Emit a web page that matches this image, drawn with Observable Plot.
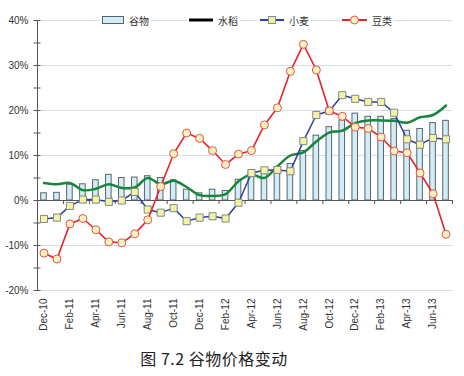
<!DOCTYPE html>
<html>
<head>
<meta charset="utf-8">
<script src="https://cdn.jsdelivr.net/npm/d3@7"></script>
<script src="https://cdn.jsdelivr.net/npm/@observablehq/plot@0.6"></script>
<style>
  html, body { margin: 0; padding: 0; background: #fff; }
  #wrap { position: relative; width: 464px; height: 376px; background: #fff; }
  .leg { position: absolute; top: 12px; height: 16px; background: #fff; display: flex; align-items: center;
         font-family: "Noto Sans CJK SC", sans-serif; font-size: 10px; color: #333; padding: 0 2px; }
  .leg svg { margin-right: 5px; }
  #title { position: absolute; left: 0; top: 340px; width: 428px; height: 36px; line-height: 36px; text-align: center;
           font-family: "Noto Sans CJK SC", sans-serif; font-size: 16px; color: #222; letter-spacing: 0.5px; }
</style>
</head>
<body>
<div id="wrap">
  <div id="chart"></div>
  <div class="leg" style="left:100px"><svg width="22" height="8"><rect x="0.5" y="0.5" width="21" height="7" fill="#d3edf6" stroke="#59646b"/></svg>谷物</div>
  <div class="leg" style="left:187px"><svg width="24" height="8"><line x1="0" x2="24" y1="4" y2="4" stroke="#000" stroke-width="3"/></svg>水稻</div>
  <div class="leg" style="left:258px"><svg width="24" height="10"><line x1="0" x2="24" y1="5" y2="5" stroke="#2e3f9e" stroke-width="2"/><rect x="8.5" y="1.5" width="7" height="7" fill="#f5f2a0" stroke="#7d8890"/></svg>小麦</div>
  <div class="leg" style="left:340px"><svg width="25" height="10"><line x1="0" x2="25" y1="5" y2="5" stroke="#e3262d" stroke-width="2"/><circle cx="12.5" cy="5" r="4" fill="#fbf1bd" stroke="#e0554f"/></svg>豆类</div>
  <div id="title">图 7.2 谷物价格变动</div>
</div>
<script>
const months = ["Dec-10","Jan-11","Feb-11","Mar-11","Apr-11","May-11","Jun-11","Jul-11","Aug-11","Sep-11","Oct-11","Nov-11",
  "Dec-11","Jan-12","Feb-12","Mar-12","Apr-12","May-12","Jun-12","Jul-12","Aug-12","Sep-12","Oct-12","Nov-12",
  "Dec-12","Jan-13","Feb-13","Mar-13","Apr-13","May-13","Jun-13","Jul-13"];
// 谷物 (bars)
const grain = [1.6,1.7,3.5,3.6,4.5,5.7,5.0,5.1,5.4,5.0,4.5,2.4,1.6,2.4,2.1,4.6,6.5,6.8,7.4,8.1,11.0,14.4,16.3,17.8,19.3,18.6,18.6,18.1,15.5,15.9,17.2,17.7];
// 水稻 (green line)
const rice = [3.9,3.6,3.9,2.3,2.6,3.6,2.8,2.9,5.0,3.6,4.4,3.0,1.2,1.0,1.4,4.3,5.8,5.0,7.6,10.0,10.7,13.1,15.1,15.5,17.2,17.8,17.8,17.7,17.3,18.5,19.0,21.1];
// 小麦 (blue line, squares)
const wheat = [-4.1,-3.8,-1.2,0.2,0.2,-0.3,0.0,1.9,-2.0,-2.7,-1.7,-4.6,-3.8,-3.5,-4.0,-0.5,6.1,6.7,6.8,6.5,13.2,19.0,19.9,23.4,22.6,21.9,21.9,19.5,13.6,12.4,13.9,13.6];
// 豆类 (red line, circles)
const beans = [-11.7,-13.0,-5.2,-4.0,-6.5,-9.2,-9.4,-7.4,-4.3,3.1,10.4,15.0,13.8,11.1,8.0,10.3,11.1,16.8,20.6,28.7,34.7,29.0,19.9,18.7,16.3,16.0,14.1,11.0,10.6,6.1,1.5,-7.5];
const yTicks = [-20,-10,0,10,20,30,40];
const yMinor = [-20,-15,-10,-5,0,5,10,15,20,25,30,35,40];
const xLabels = months.filter((d, i) => i % 2 === 0);

const data = months.map((m, i) => ({month: m, grain: grain[i], rice: rice[i], wheat: wheat[i], beans: beans[i]}));

const W = 464, H = 340, ML = 37, MR = 12;
const step = (W - ML - MR) / months.length;
const axisColor = "#555";

const chart = Plot.plot({
  width: W, height: H,
  marginLeft: ML, marginRight: MR, marginTop: 20, marginBottom: 50,
  style: {fontFamily: "Liberation Sans, Arial, sans-serif", fontSize: "10px", color: "#333", background: "white", overflow: "visible"},
  x: {type: "band", domain: months, paddingInner: 0.57, paddingOuter: 0.285, label: null},
  y: {domain: [-20, 40], label: null},
  marks: [
    Plot.gridY({ticks: yTicks, stroke: "#d9dbe6", strokeOpacity: 1}),
    Plot.axisY({ticks: yTicks, tickFormat: d => d + "%", tickSize: 0, tickPadding: 9, fill: "#333", label: null}),
    Plot.axisY({ticks: yMinor, tickFormat: () => "", tickSize: 7, dx: 3.5, stroke: axisColor, label: null}),
    Plot.ruleX([months[0]], {dx: -step / 2, stroke: axisColor}),
    Plot.axisX({ticks: xLabels, tickSize: 0, tickRotate: -90, tickPadding: 8, anchor: "bottom", fill: "#333", label: null}),
    Plot.barY(data, {x: "month", y: "grain", fill: "#d3edf6", stroke: "#59646b", strokeWidth: 1}),
    Plot.ruleY([0], {stroke: axisColor}),
    Plot.ruleX(xLabels, {dx: -step / 2, y1: 0, y2: -0.9, stroke: axisColor}),
    Plot.ruleX([months[months.length - 1]], {dx: step / 2, y1: 0, y2: -0.9, stroke: axisColor}),
    Plot.lineY(data, {x: "month", y: "rice", stroke: "#17853a", strokeWidth: 2.5, curve: "catmull-rom"}),
    Plot.lineY(data, {x: "month", y: "wheat", stroke: "#2e3f9e", strokeWidth: 1.5}),
    Plot.dot(data, {x: "month", y: "wheat", symbol: "square", r: 4, fill: "#f5f2a0", stroke: "#7d8890", strokeWidth: 1}),
    Plot.lineY(data, {x: "month", y: "beans", stroke: "#e3262d", strokeWidth: 1.6}),
    Plot.dot(data, {x: "month", y: "beans", r: 4, fill: "#fbf1bd", stroke: "#e0554f", strokeWidth: 1})
  ]
});
document.getElementById("chart").appendChild(chart);
</script>
</body>
</html>
